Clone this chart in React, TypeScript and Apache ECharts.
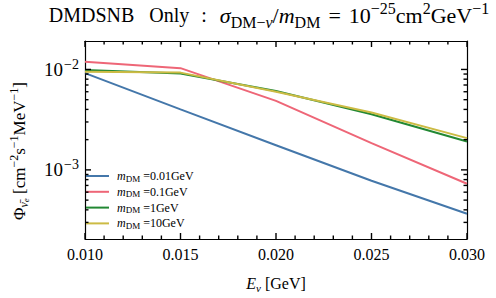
import React, { useEffect, useRef } from 'react';
import * as echarts from 'echarts';

const X_VALUES = [0.010, 0.015, 0.020, 0.025, 0.030];
const PHI_M001 = [0.0092, 0.0040, 0.00176, 0.00078, 0.000366];
const PHI_M01 = [0.0119, 0.0103, 0.00486, 0.00185, 0.000727];
const PHI_M1 = [0.0099, 0.0091, 0.0061, 0.00358, 0.00192];
const PHI_M10 = [0.0095, 0.0093, 0.0060, 0.00372, 0.00207];
const MASS_LABELS = ['0.01GeV', '0.1GeV', '1GeV', '10GeV'];
const SERIES_VALUES = [PHI_M001, PHI_M01, PHI_M1, PHI_M10];
const COLORS = ['#4477AA', '#EE6677', '#228833', '#CCBB44'];
const X_MAJOR_TICKS = [0.010, 0.015, 0.020, 0.025, 0.030];
const X_MINOR_TICKS = [0.011, 0.012, 0.013, 0.014, 0.016, 0.017, 0.018, 0.019, 0.021, 0.022, 0.023, 0.024, 0.026, 0.027, 0.028, 0.029];
const Y_MAJOR_TICKS = [0.001, 0.01];
const Y_MINOR_TICKS = [0.0003, 0.0004, 0.0005, 0.0006, 0.0007, 0.0008, 0.0009, 0.002, 0.003, 0.004, 0.005, 0.006, 0.007, 0.008, 0.009];
const X_MIN = 0.01;
const X_MAX = 0.03;
const X_STEP = 0.005;
const Y_MIN = 0.000205;
const Y_MAX = 0.0192;

const FONT = '"Liberation Serif", "Times New Roman", serif';
const MAJOR_LEN = 6;
const MINOR_LEN = 3.5;
const TICK_W = 1.4;

export default function App() {
  const ref = useRef<HTMLDivElement>(null);
  useEffect(() => {
    if (!ref.current) return;
    const chart = echarts.init(ref.current, null, { renderer: 'svg' });
    const axisLine = { show: true, lineStyle: { color: '#000', width: 1.2 } };
    const baseX = {
      type: 'value',
      min: X_MIN,
      max: X_MAX,
      interval: X_STEP,
      axisLine,
      axisTick: { show: false },
      splitLine: { show: false },
    };
    const baseY = {
      type: 'log',
      logBase: 10,
      min: Y_MIN,
      max: Y_MAX,
      axisLine,
      axisTick: { show: false },
      splitLine: { show: false },
    };
    const supLabel = (v: number) => {
      const e = Math.round(Math.log10(v));
      return `{b|10}{s|−${Math.abs(e)}}`;
    };
    const bar = (x: number, y: number, w: number, h: number) => ({
      type: 'rect',
      shape: { x, y, width: w, height: h },
      style: { fill: '#000' },
    });
    const xTickSeries = (ticks: number[], len: number) => ({
      type: 'custom',
      coordinateSystem: 'cartesian2d',
      xAxisIndex: 0,
      yAxisIndex: 0,
      silent: true,
      clip: false,
      z: 20,
      data: ticks.map((x) => [x, Y_MIN]),
      renderItem: (_params: any, api: any) => {
        const x = api.value(0);
        const b = api.coord([x, Y_MIN]);
        const t = api.coord([x, Y_MAX]);
        return {
          type: 'group',
          children: [bar(b[0] - TICK_W / 2, b[1] - len, TICK_W, len), bar(t[0] - TICK_W / 2, t[1], TICK_W, len)],
        };
      },
    });
    const yTickSeries = (ticks: number[], len: number) => ({
      type: 'custom',
      coordinateSystem: 'cartesian2d',
      xAxisIndex: 0,
      yAxisIndex: 0,
      silent: true,
      clip: false,
      z: 20,
      data: ticks.map((y) => [X_MIN, y]),
      renderItem: (_params: any, api: any) => {
        const y = api.value(1);
        const l = api.coord([X_MIN, y]);
        const r = api.coord([X_MAX, y]);
        return {
          type: 'group',
          children: [bar(l[0], l[1] - TICK_W / 2, len, TICK_W), bar(r[0] - len, r[1] - TICK_W / 2, len, TICK_W)],
        };
      },
    });
    chart.setOption({
      animation: false,
      backgroundColor: '#fff',
      textStyle: { fontFamily: FONT },
      title: {
        left: 269,
        top: 0,
        textAlign: 'center',
        padding: 0,
        text: '{a|DMDSNB}{b|Only}{c|:}{i|σ}{sub|DM−}{subi|ν}{t|/}{i|m}{sub|DM}{eq|=}{t|10}{sup|−25}{t|cm}{sup|2}{t|GeV}{sup|−1}',
        textStyle: {
          fontFamily: FONT,
          fontWeight: 'normal',
          color: '#000',
          rich: {
            a: { fontFamily: FONT, fontSize: 20, lineHeight: 30, color: '#000', padding: [0, 15, 0, 0] },
            b: { fontFamily: FONT, fontSize: 20, lineHeight: 30, color: '#000', padding: [0, 12, 0, 0] },
            c: { fontFamily: FONT, fontSize: 20, lineHeight: 30, color: '#000', padding: [0, 13, 0, 0] },
            t: { fontFamily: FONT, fontSize: 22, lineHeight: 30, color: '#000' },
            eq: { fontFamily: FONT, fontSize: 22, lineHeight: 30, color: '#000', padding: [0, 8, 0, 8] },
            i: { fontFamily: FONT, fontSize: 22, lineHeight: 30, fontStyle: 'italic', color: '#000' },
            sup: { fontFamily: FONT, fontSize: 16, lineHeight: 14, verticalAlign: 'top', color: '#000' },
            sub: { fontFamily: FONT, fontSize: 16, lineHeight: 14, verticalAlign: 'bottom', color: '#000' },
            subi: { fontFamily: FONT, fontSize: 16, lineHeight: 14, verticalAlign: 'bottom', fontStyle: 'italic', color: '#000' },
          },
        },
      },
      legend: {
        orient: 'vertical',
        left: 86,
        top: 170,
        padding: 0,
        itemGap: 2.8,
        itemWidth: 23,
        itemHeight: 2,
        icon: 'rect',
        data: MASS_LABELS,
        formatter: (name: string) => `{i|m}{sub|DM}{t| =${name}}`,
        textStyle: {
          fontFamily: FONT,
          color: '#000',
          padding: [0, 0, 0, 3],
          rich: {
            t: { fontFamily: FONT, fontSize: 12, lineHeight: 14, color: '#000' },
            i: { fontFamily: FONT, fontSize: 12, lineHeight: 14, fontStyle: 'italic', color: '#000' },
            sub: { fontFamily: FONT, fontSize: 9, lineHeight: 8, verticalAlign: 'bottom', color: '#000' },
          },
        },
      },
      grid: { left: 78, right: 29, top: 41, bottom: 56, containLabel: false },
      xAxis: [
        {
          ...baseX,
          position: 'bottom',
          name: '{i|E}{sub|ν}{t| [GeV]}',
          nameLocation: 'middle',
          nameGap: 34,
          nameTextStyle: {
            fontFamily: FONT,
            color: '#000',
            rich: {
              t: { fontFamily: FONT, fontSize: 16, lineHeight: 20, color: '#000' },
              i: { fontFamily: FONT, fontSize: 16, lineHeight: 20, fontStyle: 'italic', color: '#000' },
              sub: { fontFamily: FONT, fontSize: 11, lineHeight: 11, verticalAlign: 'bottom', fontStyle: 'italic', color: '#000' },
            },
          },
          axisLabel: {
            show: true,
            margin: 7,
            fontFamily: FONT,
            fontSize: 16,
            color: '#000',
            formatter: (v: number) => v.toFixed(3),
          },
        },
        { ...baseX, position: 'top', axisLabel: { show: false } },
      ],
      yAxis: [
        {
          ...baseY,
          position: 'left',
          name: '{t|Φ}{sub|ν̄}{subsub|e}{t| [cm}{sup|−2}{t|s}{sup|−1}{t|MeV}{sup|−1}{t|]}',
          nameLocation: 'middle',
          nameRotate: 90,
          nameGap: 55,
          nameTextStyle: {
            fontFamily: FONT,
            color: '#000',
            padding: [0, 22, 0, 0],
            rich: {
              t: { fontFamily: FONT, fontSize: 17, lineHeight: 22, color: '#000' },
              sup: { fontFamily: FONT, fontSize: 12, lineHeight: 11, verticalAlign: 'top', color: '#000' },
              sub: { fontFamily: FONT, fontSize: 12, lineHeight: 11, verticalAlign: 'bottom', fontStyle: 'italic', color: '#000' },
              subsub: { fontFamily: FONT, fontSize: 9, lineHeight: 5, verticalAlign: 'bottom', fontStyle: 'italic', color: '#000' },
            },
          },
          axisLabel: {
            show: true,
            margin: 6,
            customValues: Y_MAJOR_TICKS,
            formatter: supLabel,
            color: '#000',
            rich: {
              b: { fontFamily: FONT, fontSize: 19, lineHeight: 24, color: '#000', padding: [0, 1, 0, 0] },
              s: { fontFamily: FONT, fontSize: 14, lineHeight: 12, verticalAlign: 'top', color: '#000' },
            },
          },
        },
        { ...baseY, position: 'right', axisLabel: { show: false } },
      ],
      series: [
        ...SERIES_VALUES.map((vals, k) => ({
          name: MASS_LABELS[k],
          type: 'line',
          xAxisIndex: 0,
          yAxisIndex: 0,
          symbol: 'none',
          showSymbol: false,
          color: COLORS[k],
          lineStyle: { color: COLORS[k], width: 2 },
          data: X_VALUES.map((x, i) => [x, vals[i]]),
        })),
        xTickSeries(X_MAJOR_TICKS, MAJOR_LEN),
        xTickSeries(X_MINOR_TICKS, MINOR_LEN),
        yTickSeries(Y_MAJOR_TICKS, MAJOR_LEN),
        yTickSeries(Y_MINOR_TICKS, MINOR_LEN),
      ],
    });
    return () => chart.dispose();
  }, []);
  return <div ref={ref} style={{ width: 496, height: 298, position: 'absolute', left: 0, top: 0 }} />;
}
